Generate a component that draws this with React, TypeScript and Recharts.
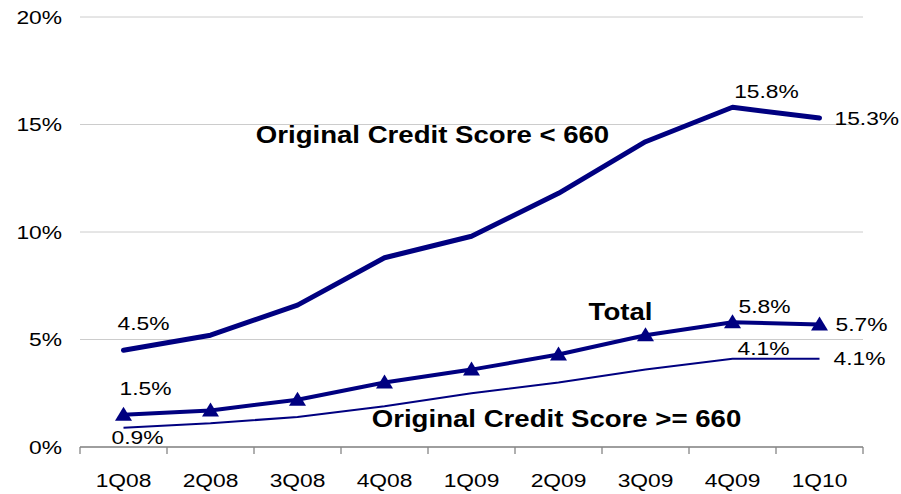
import React from 'react';
import { LineChart, Line, XAxis, YAxis, CartesianGrid, LabelList, ReferenceDot } from 'recharts';

// quarterly delinquency rates
const quarters = ['1Q08', '2Q08', '3Q08', '4Q08', '1Q09', '2Q09', '3Q09', '4Q09', '1Q10'];
const below660 = [4.5, 5.2, 6.6, 8.8, 9.8, 11.8, 14.2, 15.8, 15.3];
const totalRate = [1.5, 1.7, 2.2, 3.0, 3.6, 4.3, 5.2, 5.8, 5.7];
const above660 = [0.9, 1.1, 1.4, 1.9, 2.5, 3.0, 3.6, 4.1, 4.1];
const yTicks = [0, 5, 10, 15, 20];

const W = 901;
const H = 494;
const MARGIN = { top: 17, right: 38, left: 0, bottom: 17 };
const Y_AXIS_W = 80;
const PLOT_W = W - MARGIN.left - MARGIN.right - Y_AXIS_W;
const BAND = PLOT_W / quarters.length;

const NAVY = '#000080';
const AXIS = '#868686';
const GRID = '#cccccc';
const FONT = "'Liberation Sans', Arial, Helvetica, sans-serif";
// the slide text is stretched horizontally
const STRETCH = 1.2;

const data = quarters.map((q, i) => ({
  quarter: q,
  below: below660[i],
  total: totalRate[i],
  above: above660[i],
}));

const SText = ({ x, y, children, anchor = 'middle', bold = false, size = 19 }: any) => (
  <text
    transform={`translate(${x},${y}) scale(${STRETCH},1)`}
    textAnchor={anchor}
    dominantBaseline="central"
    fontFamily={FONT}
    fontSize={size}
    fontWeight={bold ? 'bold' : 'normal'}
    fill="#000"
  >
    {children}
  </text>
);

const YTick = ({ x, y, payload }: any) => (
  <SText x={x} y={y} anchor="end">{payload.value}%</SText>
);

// category labels + tick marks on the band boundaries
const XTick = ({ x, y, payload, index }: any) => {
  const half = BAND / 2;
  return (
    <g>
      <line x1={x - half} x2={x - half} y1={y} y2={y + 7} stroke={AXIS} strokeWidth={1.3} />
      {index === quarters.length - 1 && (
        <line x1={x + half} x2={x + half} y1={y} y2={y + 7} stroke={AXIS} strokeWidth={1.3} />
      )}
      <SText x={x} y={y + 33}>{payload.value}</SText>
    </g>
  );
};

// which points get a value label, and where it sits relative to the point
type Offsets = Record<number, [number, number, string]>;
const belowLabels: Offsets = { 0: [20, -27, 'middle'], 7: [34, -16, 'middle'], 8: [15, 0, 'start'] };
const totalLabels: Offsets = { 0: [22, -27, 'middle'], 7: [32, -16, 'middle'], 8: [16, 0, 'start'] };
const aboveLabels: Offsets = { 0: [14, 10, 'middle'], 7: [31, -11, 'middle'], 8: [14, -1, 'start'] };

const makeLabel = (offsets: Offsets) => (props: any) => {
  const { index, value } = props;
  const o = offsets[index];
  if (!o) return null;
  const x = props.x ?? props.viewBox?.x;
  const y = props.y ?? props.viewBox?.y;
  return (
    <SText key={index} x={x + o[0]} y={y + o[1]} anchor={o[2]}>
      {Number(value).toFixed(1)}%
    </SText>
  );
};

const Triangle = (props: any) => {
  const { cx, cy } = props;
  if (cx == null || cy == null) return null;
  return <path d={`M${cx},${cy - 8}L${cx + 8.5},${cy + 6}L${cx - 8.5},${cy + 6}Z`} fill={NAVY} />;
};

// series names written inside the plot
const notes = [
  { text: 'Original Credit Score < 660', at: '4Q08', value: 14.5, dx: 48 },
  { text: 'Total', at: '2Q09', value: 6.3, dx: 62 },
  { text: 'Original Credit Score >= 660', at: '2Q09', value: 1.3, dx: -2 },
];

export default function App() {
  return (
    <div style={{ position: 'absolute', left: 0, top: 0, background: '#fff' }}>
      <LineChart width={W} height={H} data={data} margin={MARGIN}>
        <CartesianGrid vertical={false} stroke={GRID} />
        <XAxis
          dataKey="quarter"
          height={30}
          padding={{ left: BAND / 2, right: BAND / 2 }}
          axisLine={{ stroke: AXIS, strokeWidth: 1.3 }}
          tickLine={false}
          tickSize={0}
          tickMargin={0}
          tick={<XTick />}
          interval={0}
        />
        <YAxis
          width={Y_AXIS_W}
          domain={[0, 20]}
          ticks={yTicks}
          axisLine={false}
          tickLine={false}
          tickMargin={12}
          tick={<YTick />}
        />
        <Line
          dataKey="above"
          stroke={NAVY}
          strokeWidth={2}
          dot={false}
          isAnimationActive={false}
        >
          <LabelList content={makeLabel(aboveLabels)} />
        </Line>
        <Line
          dataKey="below"
          stroke={NAVY}
          strokeWidth={5}
          strokeLinecap="round"
          strokeLinejoin="round"
          dot={false}
          isAnimationActive={false}
        >
          <LabelList content={makeLabel(belowLabels)} />
        </Line>
        <Line
          dataKey="total"
          stroke={NAVY}
          strokeWidth={4}
          strokeLinejoin="round"
          dot={<Triangle />}
          isAnimationActive={false}
        >
          <LabelList content={makeLabel(totalLabels)} />
        </Line>
        {notes.map((n) => (
          <ReferenceDot
            key={n.text}
            x={n.at}
            y={n.value}
            r={0}
            stroke="none"
            fill="none"
            label={(p: any) => (
              <SText x={p.viewBox.x + n.dx} y={p.viewBox.y} bold size={23}>
                {n.text}
              </SText>
            )}
          />
        ))}
      </LineChart>
    </div>
  );
}
